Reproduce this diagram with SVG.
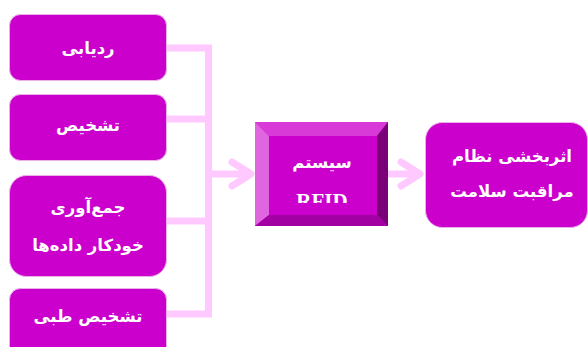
<svg xmlns="http://www.w3.org/2000/svg" width="588" height="347" viewBox="0 0 588 347">
  <style>
    .box { fill: #cc00cc; stroke: #eab0ea; stroke-width: 1; }
    .label { fill: #ffffff; font-family: "DejaVu Sans", "Noto Sans", sans-serif; font-weight: bold; font-size: 16.5px; text-anchor: middle; }
    .latin { fill: #ffffff; font-family: "Liberation Serif", serif; font-weight: bold; font-size: 21px; text-anchor: middle; }
    .wire { fill: none; stroke: #ffc8ff; stroke-width: 7; }
    .head { fill: none; stroke: #ffc8ff; stroke-width: 7; stroke-linecap: round; stroke-linejoin: round; }
  </style>
  <defs>
    <clipPath id="rfidClip">
      <rect x="269" y="136" width="108" height="67"/>
    </clipPath>
  </defs>
  <rect width="588" height="347" fill="#ffffff"/>

  <!-- connectors -->
  <g id="connectors">
    <path class="wire" d="M167 48 H208.5 V314 H167 M167 119 H208.5 M167 221 H208.5"/>
    <path class="wire" d="M208.5 174 H250"/>
    <path class="head" d="M232 162 L251 174 L232 186"/>
    <path class="wire" d="M388 174 H420"/>
    <path class="head" d="M401 162 L420 174 L401 186"/>
  </g>

  <!-- input nodes -->
  <g id="tracking">
    <rect class="box" x="9.5" y="14.5" width="157" height="66" rx="11"/>
    <text class="label" x="88" y="54" direction="rtl">ردیابی</text>
  </g>
  <g id="identification">
    <rect class="box" x="9.5" y="94.5" width="157" height="66" rx="11"/>
    <text class="label" x="88" y="131" direction="rtl">تشخیص</text>
  </g>
  <g id="data-collection">
    <rect class="box" x="9.5" y="175.5" width="157" height="101" rx="17"/>
    <text class="label" x="88" y="213" direction="rtl">جمع‌آوری</text>
    <text class="label" x="88" y="251" direction="rtl">خودکار داده‌ها</text>
  </g>
  <g id="medical-diagnosis">
    <rect class="box" x="9.5" y="288.5" width="157" height="70" rx="11"/>
    <text class="label" x="88" y="322" direction="rtl">تشخیص طبی</text>
  </g>

  <!-- RFID system (bevelled block) -->
  <g id="rfid-system">
    <rect x="255" y="122" width="133" height="104" fill="#cc00cc"/>
    <polygon points="255,122 388,122 377,136 269,136" fill="#d73ad7"/>
    <polygon points="255,122 269,136 269,215 255,226" fill="#df66df"/>
    <polygon points="388,122 388,226 377,215 377,136" fill="#7a0078"/>
    <polygon points="255,226 269,215 377,215 388,226" fill="#a300a3"/>
    <rect x="269" y="136" width="108" height="79" fill="#cc00cc"/>
    <text class="label" x="322" y="168" direction="rtl">سیستم</text>
    <text class="latin" x="322" y="208" clip-path="url(#rfidClip)">RFID</text>
  </g>

  <!-- output node -->
  <g id="health-care-effectiveness">
    <rect class="box" x="425.5" y="122.5" width="162" height="105" rx="17"/>
    <text class="label" x="512" y="162" direction="rtl">اثربخشی نظام</text>
    <text class="label" x="512" y="197" direction="rtl">مراقبت سلامت</text>
  </g>
</svg>
